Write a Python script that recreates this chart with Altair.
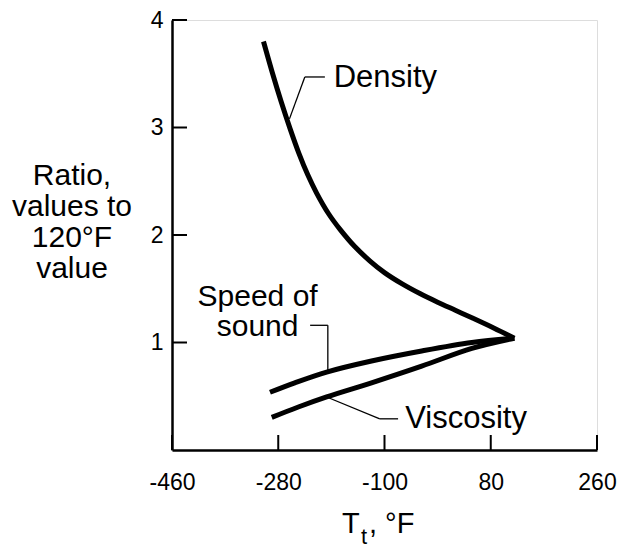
import altair as alt
import pandas as pd

# ---- data ----
density_t = [-305, -290, -275, -260, -245, -230, -215, -195, -175, -150, -125, -100, -70, -40, -10, 20, 50, 85, 120]
density_r = [3.80, 3.51, 3.24, 2.99, 2.76, 2.56, 2.39, 2.20, 2.05, 1.89, 1.76, 1.65, 1.545, 1.455, 1.375, 1.30, 1.225, 1.135, 1.04]
speed_t = [-294, -252, -198, -122, -37, 48, 120]
speed_r = [0.537, 0.625, 0.725, 0.828, 0.921, 1.0, 1.04]
visc_t = [-291, -246, -198, -122, -37, 48, 120]
visc_r = [0.303, 0.40, 0.494, 0.625, 0.78, 0.945, 1.04]

x_ticks = [-460, -280, -100, 80, 260]
y_ticks = [1, 2, 3, 4]

# annotation labels (data coordinates)
left_labels = ["Density", "Viscosity"]
left_label_t = [-186, -65]
left_label_r = [3.46, 0.29]
center_labels = ["Speed of\nsound"]
center_label_t = [-315]
center_label_r = [1.335]

# leader lines (data coordinates)
lead_t1 = [-201, -235, -226, -196, -77, -108]
lead_r1 = [3.47, 3.47, 1.16, 1.16, 0.29, 0.29]
lead_t2 = [-235, -261, -196, -196, -108, -201]
lead_r2 = [3.47, 3.08, 1.16, 0.73, 0.29, 0.50]

y_title = "Ratio,\nvalues to\n120°F\nvalue"

FONT = "Liberation Sans"
W, H = 425, 430

curves = pd.DataFrame({
    "x": density_t + speed_t + visc_t,
    "y": density_r + speed_r + visc_r,
    "series": ["Density"] * len(density_t) + ["Speed of sound"] * len(speed_t) + ["Viscosity"] * len(visc_t),
})

xs = alt.Scale(domain=[-460, 260], nice=False, zero=False)
ys = alt.Scale(domain=[0, 4], nice=False)
xa = alt.Axis(values=x_ticks, title="", ticks=False, grid=False, labelFontSize=23,
              labelFont=FONT, labelColor="black", labelPadding=21, domainColor="black",
              domainWidth=2.5, labelFlush=False, labelOverlap=False,
              labelExpr="'' + datum.value")
ya = alt.Axis(values=y_ticks, title="", ticks=False, grid=False, labelFontSize=23,
              labelFont=FONT, labelColor="black", labelPadding=9, domainColor="black",
              domainWidth=2.5, labelOverlap=False)

def X(f):
    return alt.X(f, type="quantitative", scale=xs, axis=xa)

def Y(f):
    return alt.Y(f, type="quantitative", scale=ys, axis=ya)

lines = alt.Chart(curves).mark_line(
    color="black", strokeWidth=5, interpolate="catmull-rom", strokeCap="butt"
).encode(x=X("x"), y=Y("y"), detail="series:N")

xt = alt.Chart(pd.DataFrame({"x": x_ticks})).mark_rule(color="black", strokeWidth=2).encode(
    x=X("x"), y=alt.value(H), y2=alt.value(H - 15))
yt = alt.Chart(pd.DataFrame({"y": y_ticks})).mark_rule(color="black", strokeWidth=2).encode(
    y=Y("y"), x=alt.value(0), x2=alt.value(15))

leaders = alt.Chart(pd.DataFrame({"x": lead_t1, "y": lead_r1, "x2": lead_t2, "y2": lead_r2})).mark_rule(
    color="black", strokeWidth=1.3).encode(x=X("x"), y=Y("y"), x2="x2", y2="y2")

lbl_left = alt.Chart(pd.DataFrame({"x": left_label_t, "y": left_label_r, "t": left_labels})).mark_text(
    align="left", baseline="middle", fontSize=31, font=FONT, color="black"
).encode(x=X("x"), y=Y("y"), text="t")

lbl_center = alt.Chart(pd.DataFrame({"x": center_label_t, "y": center_label_r, "t": center_labels})).mark_text(
    align="center", baseline="alphabetic", fontSize=30, font=FONT, color="black",
    lineBreak="\n", lineHeight=30
).encode(x=X("x"), y=Y("y"), text="t")

one = pd.DataFrame({"k": [0]})
ytitle = alt.Chart(one).mark_text(
    align="center", baseline="alphabetic", fontSize=30, font=FONT, color="black",
    lineBreak="\n", lineHeight=31
).encode(x=alt.value(-100), y=alt.value(165), text=alt.value(y_title))

xt_T = alt.Chart(one).mark_text(align="left", baseline="alphabetic", fontSize=29, font=FONT, color="black").encode(
    x=alt.value(170), y=alt.value(513), text=alt.value("T"))
xt_t = alt.Chart(one).mark_text(align="left", baseline="alphabetic", fontSize=22, font=FONT, color="black").encode(
    x=alt.value(189), y=alt.value(524), text=alt.value("t"))
xt_F = alt.Chart(one).mark_text(align="left", baseline="alphabetic", fontSize=29, font=FONT, color="black").encode(
    x=alt.value(197), y=alt.value(513), text=alt.value(", °F"))

chart = alt.layer(lines, xt, yt, leaders, lbl_left, lbl_center, ytitle, xt_T, xt_t, xt_F).properties(
    width=W, height=H,
    autosize=alt.AutoSizeParams(type="none"),
    padding={"left": 164, "top": 12, "right": 20, "bottom": 100},
).configure_view(stroke=None).configure(background="white")

chart.save("out.html", embed_options={"renderer": "svg", "actions": False})
